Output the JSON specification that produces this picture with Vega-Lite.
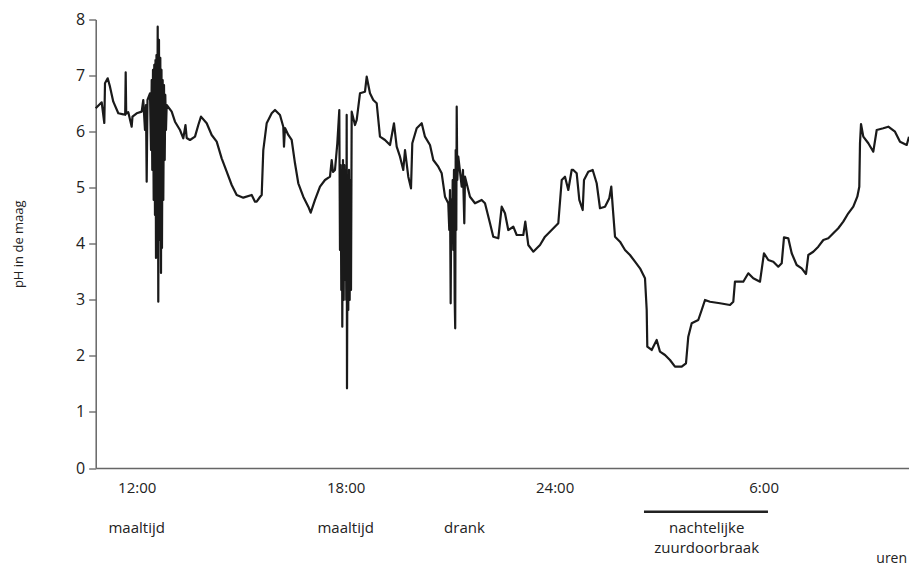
{
  "$schema": "https://vega.github.io/schema/vega-lite/v6.json",
  "autosize": "none",
  "width": 813.3,
  "height": 448.5,
  "padding": {"left": 95.7, "top": 19.5, "right": 0, "bottom": 101},
  "background": "white",
  "config": {
    "view": {"stroke": null},
    "font": "Open Sans",
    "axis": {"labelFont": "Open Sans", "titleFont": "Open Sans", "grid": false}
  },
  "datasets": {
    "ph": [
      {"t": 10.823, "ph": 6.416}, {"t": 10.995, "ph": 6.523}, {"t": 11.07, "ph": 6.154}, {"t": 11.09, "ph": 6.862},
      {"t": 11.167, "ph": 6.951}, {"t": 11.233, "ph": 6.802}, {"t": 11.328, "ph": 6.534}, {"t": 11.472, "ph": 6.327},
      {"t": 11.615, "ph": 6.309}, {"t": 11.67, "ph": 6.3}, {"t": 11.684, "ph": 7.058}, {"t": 11.699, "ph": 6.32},
      {"t": 11.759, "ph": 6.345}, {"t": 11.856, "ph": 6.088}, {"t": 11.879, "ph": 6.267}, {"t": 12.0, "ph": 6.327},
      {"t": 12.144, "ph": 6.356}, {"t": 12.189, "ph": 6.564}, {"t": 12.238, "ph": 6.029}, {"t": 12.267, "ph": 6.475},
      {"t": 12.287, "ph": 5.107}, {"t": 12.31, "ph": 6.564}, {"t": 12.382, "ph": 6.684},
      {"t": 12.411, "ph": 5.672}, {"t": 12.431, "ph": 6.921}, {"t": 12.448, "ph": 5.316}, {"t": 12.468, "ph": 7.1},
      {"t": 12.488, "ph": 4.781}, {"t": 12.505, "ph": 7.189}, {"t": 12.525, "ph": 4.513}, {"t": 12.54, "ph": 7.278},
      {"t": 12.554, "ph": 3.746}, {"t": 12.568, "ph": 7.367}, {"t": 12.583, "ph": 4.245}, {"t": 12.603, "ph": 7.872},
      {"t": 12.62, "ph": 2.966}, {"t": 12.64, "ph": 7.635}, {"t": 12.66, "ph": 4.067}, {"t": 12.678, "ph": 7.314},
      {"t": 12.698, "ph": 3.478}, {"t": 12.712, "ph": 7.1}, {"t": 12.726, "ph": 3.924}, {"t": 12.746, "ph": 6.921},
      {"t": 12.764, "ph": 4.781}, {"t": 12.784, "ph": 6.832}, {"t": 12.804, "ph": 5.494}, {"t": 12.821, "ph": 6.654},
      {"t": 12.841, "ph": 6.029}, {"t": 12.861, "ph": 6.475},
      {"t": 13.005, "ph": 6.356}, {"t": 13.1, "ph": 6.177}, {"t": 13.243, "ph": 6.029}, {"t": 13.338, "ph": 5.881},
      {"t": 13.401, "ph": 6.118}, {"t": 13.436, "ph": 5.886}, {"t": 13.53, "ph": 5.851}, {"t": 13.674, "ph": 5.91},
      {"t": 13.769, "ph": 6.118}, {"t": 13.846, "ph": 6.267}, {"t": 14.01, "ph": 6.149}, {"t": 14.153, "ph": 5.94},
      {"t": 14.297, "ph": 5.821}, {"t": 14.44, "ph": 5.524}, {"t": 14.584, "ph": 5.285}, {"t": 14.728, "ph": 5.048},
      {"t": 14.871, "ph": 4.87}, {"t": 15.061, "ph": 4.822}, {"t": 15.302, "ph": 4.87}, {"t": 15.397, "ph": 4.75},
      {"t": 15.445, "ph": 4.75}, {"t": 15.54, "ph": 4.834}, {"t": 15.589, "ph": 4.87}, {"t": 15.635, "ph": 5.672},
      {"t": 15.732, "ph": 6.149}, {"t": 15.876, "ph": 6.327}, {"t": 15.971, "ph": 6.386}, {"t": 16.114, "ph": 6.297},
      {"t": 16.209, "ph": 6.088}, {"t": 16.229, "ph": 5.731}, {"t": 16.258, "ph": 6.065}, {"t": 16.353, "ph": 5.94},
      {"t": 16.45, "ph": 5.851}, {"t": 16.545, "ph": 5.435}, {"t": 16.64, "ph": 5.079}, {"t": 16.783, "ph": 4.839},
      {"t": 16.927, "ph": 4.661}, {"t": 16.996, "ph": 4.554}, {"t": 17.119, "ph": 4.781}, {"t": 17.263, "ph": 5.018},
      {"t": 17.406, "ph": 5.137}, {"t": 17.55, "ph": 5.196}, {"t": 17.599, "ph": 5.494}, {"t": 17.636, "ph": 5.28},
      {"t": 17.693, "ph": 5.316}, {"t": 17.76, "ph": 5.792},
      {"t": 17.817, "ph": 6.386}, {"t": 17.837, "ph": 3.889}, {"t": 17.857, "ph": 5.405}, {"t": 17.874, "ph": 3.175},
      {"t": 17.894, "ph": 5.316}, {"t": 17.903, "ph": 2.521}, {"t": 17.923, "ph": 5.494}, {"t": 17.943, "ph": 2.997},
      {"t": 17.96, "ph": 5.405}, {"t": 17.98, "ph": 3.354}, {"t": 18.001, "ph": 5.316}, {"t": 18.018, "ph": 2.997},
      {"t": 18.029, "ph": 6.297}, {"t": 18.038, "ph": 1.422}, {"t": 18.058, "ph": 5.227}, {"t": 18.075, "ph": 2.818},
      {"t": 18.095, "ph": 5.316}, {"t": 18.115, "ph": 2.997}, {"t": 18.133, "ph": 5.137}, {"t": 18.153, "ph": 3.175},
      {"t": 18.173, "ph": 6.356},
      {"t": 18.268, "ph": 6.118}, {"t": 18.317, "ph": 6.208}, {"t": 18.411, "ph": 6.684}, {"t": 18.555, "ph": 6.712},
      {"t": 18.604, "ph": 6.98}, {"t": 18.698, "ph": 6.684}, {"t": 18.793, "ph": 6.564}, {"t": 18.891, "ph": 6.506},
      {"t": 18.985, "ph": 5.91}, {"t": 19.129, "ph": 5.851}, {"t": 19.273, "ph": 5.762}, {"t": 19.387, "ph": 6.149},
      {"t": 19.465, "ph": 5.731}, {"t": 19.56, "ph": 5.553}, {"t": 19.654, "ph": 5.316}, {"t": 19.704, "ph": 5.672},
      {"t": 19.798, "ph": 5.196}, {"t": 19.876, "ph": 4.989}, {"t": 19.913, "ph": 5.792}, {"t": 20.039, "ph": 6.06},
      {"t": 20.183, "ph": 6.149}, {"t": 20.277, "ph": 5.91}, {"t": 20.421, "ph": 5.762}, {"t": 20.516, "ph": 5.494},
      {"t": 20.659, "ph": 5.375}, {"t": 20.757, "ph": 5.257}, {"t": 20.852, "ph": 4.839}, {"t": 20.946, "ph": 4.722},
      {"t": 20.975, "ph": 4.245}, {"t": 20.995, "ph": 4.959}, {"t": 21.015, "ph": 2.938}, {"t": 21.032, "ph": 4.781},
      {"t": 21.053, "ph": 4.067}, {"t": 21.073, "ph": 5.137}, {"t": 21.09, "ph": 3.889}, {"t": 21.11, "ph": 5.316},
      {"t": 21.13, "ph": 2.997}, {"t": 21.145, "ph": 2.492}, {"t": 21.159, "ph": 5.672}, {"t": 21.176, "ph": 4.245},
      {"t": 21.188, "ph": 6.445}, {"t": 21.205, "ph": 5.137}, {"t": 21.234, "ph": 5.553},
      {"t": 21.331, "ph": 5.018}, {"t": 21.368, "ph": 5.316}, {"t": 21.406, "ph": 4.365}, {"t": 21.426, "ph": 5.196},
      {"t": 21.569, "ph": 4.839}, {"t": 21.713, "ph": 4.722}, {"t": 21.905, "ph": 4.781}, {"t": 22.0, "ph": 4.722},
      {"t": 22.144, "ph": 4.365}, {"t": 22.238, "ph": 4.126}, {"t": 22.382, "ph": 4.097}, {"t": 22.48, "ph": 4.661},
      {"t": 22.574, "ph": 4.543}, {"t": 22.669, "ph": 4.245}, {"t": 22.813, "ph": 4.304}, {"t": 22.91, "ph": 4.156},
      {"t": 23.1, "ph": 4.156}, {"t": 23.157, "ph": 4.394}, {"t": 23.243, "ph": 3.978}, {"t": 23.387, "ph": 3.858},
      {"t": 23.58, "ph": 3.978}, {"t": 23.723, "ph": 4.126}, {"t": 23.915, "ph": 4.245}, {"t": 24.105, "ph": 4.365},
      {"t": 24.203, "ph": 5.137}, {"t": 24.297, "ph": 5.196}, {"t": 24.392, "ph": 4.959}, {"t": 24.489, "ph": 5.316},
      {"t": 24.535, "ph": 5.316}, {"t": 24.633, "ph": 5.257}, {"t": 24.708, "ph": 4.781}, {"t": 24.805, "ph": 4.602},
      {"t": 24.843, "ph": 5.137}, {"t": 24.966, "ph": 5.285}, {"t": 25.092, "ph": 5.316}, {"t": 25.207, "ph": 5.079},
      {"t": 25.302, "ph": 4.633}, {"t": 25.446, "ph": 4.661}, {"t": 25.569, "ph": 4.811}, {"t": 25.626, "ph": 5.018},
      {"t": 25.667, "ph": 4.661}, {"t": 25.733, "ph": 4.126}, {"t": 25.876, "ph": 4.037}, {"t": 26.02, "ph": 3.889},
      {"t": 26.163, "ph": 3.799}, {"t": 26.307, "ph": 3.68}, {"t": 26.451, "ph": 3.562}, {"t": 26.594, "ph": 3.384},
      {"t": 26.643, "ph": 2.818}, {"t": 26.66, "ph": 2.164}, {"t": 26.786, "ph": 2.105}, {"t": 26.93, "ph": 2.283},
      {"t": 27.024, "ph": 2.075}, {"t": 27.168, "ph": 2.016}, {"t": 27.311, "ph": 1.927}, {"t": 27.455, "ph": 1.807},
      {"t": 27.648, "ph": 1.807}, {"t": 27.771, "ph": 1.868}, {"t": 27.837, "ph": 2.342}, {"t": 27.935, "ph": 2.581},
      {"t": 28.124, "ph": 2.64}, {"t": 28.222, "ph": 2.818}, {"t": 28.317, "ph": 2.997}, {"t": 28.46, "ph": 2.966},
      {"t": 28.747, "ph": 2.938}, {"t": 29.034, "ph": 2.908}, {"t": 29.129, "ph": 2.966}, {"t": 29.177, "ph": 3.323},
      {"t": 29.416, "ph": 3.323}, {"t": 29.56, "ph": 3.473}, {"t": 29.703, "ph": 3.384}, {"t": 29.896, "ph": 3.323},
      {"t": 30.01, "ph": 3.83}, {"t": 30.134, "ph": 3.71}, {"t": 30.278, "ph": 3.68}, {"t": 30.421, "ph": 3.591},
      {"t": 30.519, "ph": 3.651}, {"t": 30.585, "ph": 4.115}, {"t": 30.708, "ph": 4.097}, {"t": 30.806, "ph": 3.83},
      {"t": 30.949, "ph": 3.621}, {"t": 31.093, "ph": 3.562}, {"t": 31.217, "ph": 3.461}, {"t": 31.283, "ph": 3.799},
      {"t": 31.426, "ph": 3.858}, {"t": 31.57, "ph": 3.948}, {"t": 31.714, "ph": 4.067}, {"t": 31.857, "ph": 4.097},
      {"t": 32.0, "ph": 4.187}, {"t": 32.144, "ph": 4.276}, {"t": 32.287, "ph": 4.394}, {"t": 32.431, "ph": 4.543},
      {"t": 32.575, "ph": 4.661}, {"t": 32.69, "ph": 4.839}, {"t": 32.747, "ph": 5.018}, {"t": 32.767, "ph": 5.792},
      {"t": 32.796, "ph": 6.136}, {"t": 32.862, "ph": 5.91}, {"t": 33.006, "ph": 5.792}, {"t": 33.149, "ph": 5.642},
      {"t": 33.247, "ph": 6.029}, {"t": 33.436, "ph": 6.06}, {"t": 33.58, "ph": 6.088}, {"t": 33.772, "ph": 5.999},
      {"t": 33.916, "ph": 5.821}, {"t": 34.108, "ph": 5.762}, {"t": 34.174, "ph": 5.91}
    ],
    "events": [
      {"t": 12.0, "label": "maaltijd"},
      {"t": 18.0, "label": "maaltijd"},
      {"t": 21.41, "label": "drank"},
      {"t": 28.365, "label": "nachtelijke\nzuurdoorbraak"}
    ],
    "nacht": [{"start": 26.565, "end": 30.125}],
    "unit": [{"t": 33.677, "label": "uren"}]
  },
  "layer": [
    {
      "data": {"name": "ph"},
      "mark": {"type": "line", "color": "#1a1a1a", "strokeWidth": 2.2, "strokeJoin": "round"},
      "encoding": {
        "x": {
          "field": "t", "type": "quantitative",
          "scale": {"domain": [10.823, 34.174], "nice": false, "zero": false},
          "axis": {
            "title": null, "values": [12, 18, 24, 30], "ticks": false,
            "labelExpr": "datum.value == 12 ? '12:00' : datum.value == 18 ? '18:00' : datum.value == 24 ? '24:00' : '6:00'",
            "labelFontSize": 15, "labelColor": "#222", "labelPadding": 12,
            "domainColor": "#666", "domainWidth": 1.5
          }
        },
        "y": {
          "field": "ph", "type": "quantitative",
          "scale": {"domain": [0, 8], "nice": false, "zero": false},
          "axis": {
            "title": "pH in de maag", "values": [0, 1, 2, 3, 4, 5, 6, 7, 8], "format": "d", "tickSize": 7,
            "tickColor": "#333", "domainColor": "#666", "domainWidth": 1.5,
            "labelFontSize": 16, "labelColor": "#222", "labelPadding": 4,
            "titleFontSize": 13, "titleFontWeight": "normal", "titleColor": "#222",
            "titleX": -77, "titleBaseline": "middle", "titleAlign": "center", "titleAngle": -90
          }
        }
      }
    },
    {
      "mark": {"type": "rule", "color": "#222", "strokeWidth": 1, "strokeDash": [3, 3]},
      "encoding": {"y": {"datum": 4, "type": "quantitative", "scale": {"domain": [0, 8], "nice": false, "zero": false}}}
    },
    {
      "data": {"name": "nacht"},
      "mark": {"type": "rule", "color": "#222", "strokeWidth": 2.5},
      "encoding": {
        "x": {"field": "start", "type": "quantitative", "scale": {"domain": [10.823, 34.174], "nice": false, "zero": false}},
        "x2": {"field": "end"},
        "y": {"datum": -0.78, "type": "quantitative", "scale": {"domain": [0, 8], "nice": false, "zero": false}}
      }
    },
    {
      "data": {"name": "events"},
      "mark": {"type": "text", "fontSize": 15, "color": "#222", "align": "center", "baseline": "alphabetic", "lineBreak": "\n", "lineHeight": 20.5, "font": "Open Sans"},
      "encoding": {
        "x": {"field": "t", "type": "quantitative", "scale": {"domain": [10.823, 34.174], "nice": false, "zero": false}},
        "y": {"datum": -1.154, "type": "quantitative", "scale": {"domain": [0, 8], "nice": false, "zero": false}},
        "text": {"field": "label", "type": "nominal"}
      }
    },
    {
      "data": {"name": "unit"},
      "mark": {"type": "text", "fontSize": 14, "color": "#222", "align": "center", "baseline": "alphabetic", "font": "Open Sans"},
      "encoding": {
        "x": {"field": "t", "type": "quantitative", "scale": {"domain": [10.823, 34.174], "nice": false, "zero": false}},
        "y": {"datum": -1.7, "type": "quantitative", "scale": {"domain": [0, 8], "nice": false, "zero": false}},
        "text": {"field": "label", "type": "nominal"}
      }
    }
  ]
}
